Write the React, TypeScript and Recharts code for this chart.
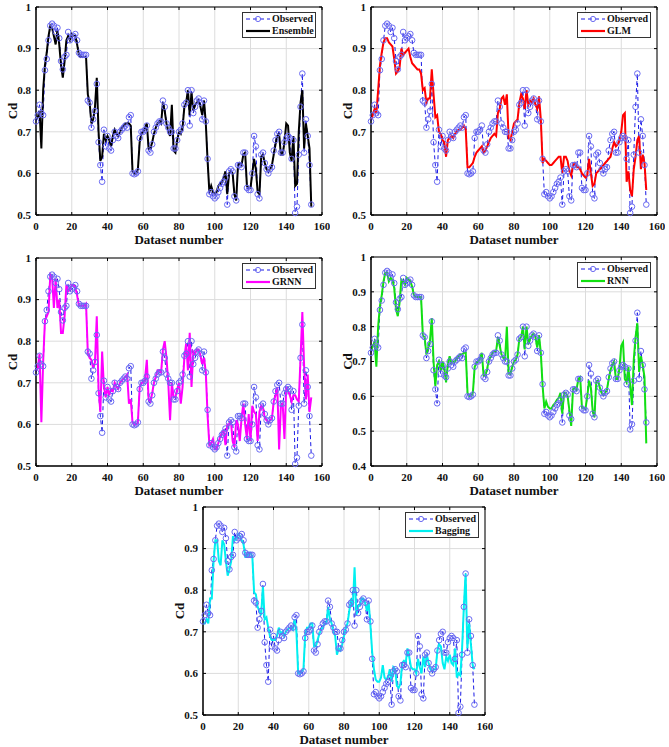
import React from "react";
import { LineChart, Line, XAxis, YAxis, CartesianGrid, ReferenceArea } from "recharts";

// Discharge coefficient per dataset number, measured and predicted by five models
const observed = [
  0.725, 0.74, 0.765, 0.745, 0.74, 0.848, 0.875, 0.92, 0.955, 0.96,
  0.955, 0.94, 0.95, 0.925, 0.87, 0.85, 0.88, 0.885, 0.94, 0.92,
  0.925, 0.93, 0.935, 0.92, 0.89, 0.885, 0.885, 0.885, 0.885, 0.775,
  0.77, 0.71, 0.73, 0.75, 0.815, 0.675, 0.62, 0.58, 0.705, 0.665,
  0.69, 0.66, 0.655, 0.68, 0.7, 0.69, 0.685, 0.7, 0.705, 0.71,
  0.715, 0.71, 0.735, 0.74, 0.6, 0.598, 0.6, 0.605, 0.685, 0.7,
  0.7, 0.705, 0.715, 0.655, 0.65, 0.67, 0.7, 0.71, 0.72, 0.725,
  0.725, 0.775, 0.76, 0.72, 0.71, 0.7, 0.7, 0.66, 0.66, 0.68,
  0.7, 0.705, 0.72, 0.765, 0.77, 0.8, 0.715, 0.8, 0.745, 0.76,
  0.775, 0.78, 0.77, 0.73, 0.775, 0.725, 0.635, 0.55, 0.555, 0.545,
  0.54, 0.545, 0.555, 0.565, 0.575, 0.58, 0.59, 0.525, 0.605, 0.61,
  0.605, 0.545, 0.535, 0.62, 0.62, 0.615, 0.65, 0.65, 0.565, 0.56,
  0.56, 0.6, 0.69, 0.665, 0.55, 0.54, 0.645, 0.65, 0.625, 0.61,
  0.6, 0.61, 0.615, 0.655, 0.68, 0.695, 0.7, 0.65, 0.65, 0.675,
  0.685, 0.69, 0.685, 0.635, 0.68, 0.505, 0.52, 0.645, 0.76, 0.84,
  0.65, 0.73, 0.69, 0.62, 0.525,
];

const ensemble = [
  0.73, 0.735, 0.75, 0.66, 0.8, 0.86, 0.89, 0.93, 0.955, 0.95,
  0.93, 0.91, 0.945, 0.91, 0.86, 0.83, 0.87, 0.92, 0.93, 0.92,
  0.935, 0.93, 0.93, 0.91, 0.885, 0.88, 0.88, 0.88, 0.88, 0.79,
  0.77, 0.72, 0.73, 0.76, 0.83, 0.7, 0.63, 0.64, 0.695, 0.68,
  0.69, 0.68, 0.665, 0.69, 0.705, 0.695, 0.69, 0.7, 0.71, 0.715,
  0.72, 0.72, 0.72, 0.715, 0.605, 0.6, 0.6, 0.61, 0.675, 0.695,
  0.7, 0.71, 0.72, 0.66, 0.66, 0.675, 0.695, 0.71, 0.72, 0.725,
  0.72, 0.77, 0.75, 0.72, 0.7, 0.69, 0.765, 0.655, 0.65, 0.68,
  0.7, 0.695, 0.71, 0.76, 0.77, 0.8, 0.74, 0.795, 0.75, 0.765,
  0.77, 0.775, 0.76, 0.74, 0.775, 0.72, 0.63, 0.555, 0.57, 0.555,
  0.55, 0.555, 0.57, 0.575, 0.58, 0.59, 0.605, 0.55, 0.6, 0.605,
  0.6, 0.55, 0.535, 0.62, 0.625, 0.62, 0.645, 0.65, 0.57, 0.565,
  0.565, 0.6, 0.635, 0.61, 0.555, 0.55, 0.64, 0.645, 0.625, 0.61,
  0.605, 0.61, 0.62, 0.645, 0.67, 0.69, 0.695, 0.645, 0.645, 0.675,
  0.72, 0.715, 0.65, 0.63, 0.69, 0.57, 0.575, 0.7, 0.77, 0.8,
  0.66, 0.72, 0.69, 0.66, 0.52,
];

const glm = [
  0.73, 0.74, 0.755, 0.745, 0.8, 0.86, 0.89, 0.915, 0.925, 0.925,
  0.915, 0.91, 0.905, 0.875, 0.84, 0.845, 0.855, 0.9, 0.885, 0.89,
  0.895, 0.9, 0.88, 0.865, 0.86, 0.855, 0.85, 0.85, 0.84, 0.8,
  0.805, 0.77, 0.78, 0.78, 0.85, 0.79, 0.735, 0.74, 0.7, 0.695,
  0.68, 0.675, 0.64, 0.68, 0.685, 0.69, 0.685, 0.695, 0.7, 0.705,
  0.705, 0.71, 0.715, 0.705, 0.615, 0.615, 0.62, 0.625, 0.64, 0.65,
  0.655, 0.66, 0.665, 0.65, 0.655, 0.665, 0.675, 0.685, 0.69, 0.695,
  0.69, 0.745, 0.755, 0.78, 0.785, 0.765, 0.79, 0.685, 0.68, 0.7,
  0.72, 0.725, 0.73, 0.77, 0.79, 0.78, 0.755, 0.8, 0.765, 0.775,
  0.77, 0.78, 0.765, 0.755, 0.785, 0.73, 0.625, 0.635, 0.63, 0.625,
  0.62, 0.62, 0.625, 0.63, 0.635, 0.64, 0.64, 0.6, 0.64, 0.64,
  0.63, 0.605, 0.595, 0.62, 0.625, 0.615, 0.615, 0.61, 0.6, 0.595,
  0.59, 0.595, 0.635, 0.6, 0.57, 0.575, 0.6, 0.605, 0.61, 0.615,
  0.62, 0.625, 0.63, 0.635, 0.64, 0.66, 0.675, 0.665, 0.67, 0.68,
  0.7, 0.74, 0.745, 0.58, 0.605, 0.56, 0.545, 0.61, 0.64, 0.68,
  0.69, 0.61, 0.645, 0.625, 0.56,
];

const grnn = [
  0.73, 0.735, 0.77, 0.605, 0.75, 0.85, 0.86, 0.87, 0.96, 0.955,
  0.88, 0.95, 0.88, 0.9, 0.82, 0.82, 0.86, 0.935, 0.92, 0.925,
  0.935, 0.935, 0.93, 0.91, 0.885, 0.885, 0.885, 0.885, 0.89, 0.77,
  0.76, 0.755, 0.735, 0.75, 0.86, 0.685, 0.63, 0.775, 0.69, 0.665,
  0.69, 0.67, 0.685, 0.68, 0.7, 0.69, 0.685, 0.7, 0.705, 0.71,
  0.715, 0.72, 0.65, 0.66, 0.605, 0.6, 0.6, 0.605, 0.69, 0.7,
  0.7, 0.71, 0.755, 0.66, 0.655, 0.675, 0.7, 0.715, 0.73, 0.73,
  0.725, 0.78, 0.8, 0.76, 0.7, 0.61, 0.7, 0.665, 0.665, 0.685,
  0.7, 0.65, 0.69, 0.76, 0.795, 0.73, 0.82, 0.69, 0.775, 0.77,
  0.78, 0.78, 0.765, 0.745, 0.76, 0.725, 0.62, 0.55, 0.555, 0.565,
  0.54, 0.54, 0.555, 0.57, 0.58, 0.585, 0.55, 0.6, 0.6, 0.61,
  0.56, 0.545, 0.61, 0.6, 0.56, 0.615, 0.65, 0.6, 0.565, 0.625,
  0.56, 0.645, 0.63, 0.625, 0.56, 0.63, 0.645, 0.64, 0.615, 0.61,
  0.605, 0.61, 0.615, 0.655, 0.67, 0.69, 0.54, 0.645, 0.65, 0.565,
  0.69, 0.68, 0.67, 0.655, 0.67, 0.67, 0.66, 0.655, 0.76, 0.87,
  0.74, 0.66, 0.72, 0.63, 0.665,
];

const rnn = [
  0.73, 0.745, 0.755, 0.685, 0.8, 0.86, 0.89, 0.93, 0.955, 0.955,
  0.93, 0.94, 0.935, 0.91, 0.85, 0.83, 0.87, 0.935, 0.93, 0.92,
  0.94, 0.935, 0.93, 0.915, 0.89, 0.885, 0.885, 0.885, 0.885, 0.775,
  0.77, 0.72, 0.74, 0.76, 0.825, 0.7, 0.63, 0.69, 0.7, 0.675,
  0.7, 0.68, 0.64, 0.695, 0.715, 0.695, 0.7, 0.7, 0.71, 0.715,
  0.72, 0.72, 0.725, 0.725, 0.61, 0.6, 0.6, 0.61, 0.685, 0.695,
  0.7, 0.71, 0.725, 0.66, 0.66, 0.68, 0.705, 0.715, 0.725, 0.73,
  0.73, 0.77, 0.745, 0.72, 0.71, 0.705, 0.8, 0.665, 0.665, 0.685,
  0.7, 0.705, 0.72, 0.765, 0.77, 0.8, 0.735, 0.8, 0.75, 0.765,
  0.775, 0.78, 0.77, 0.74, 0.775, 0.725, 0.63, 0.565, 0.585, 0.57,
  0.565, 0.565, 0.575, 0.58, 0.59, 0.595, 0.61, 0.55, 0.61, 0.61,
  0.6, 0.56, 0.515, 0.62, 0.625, 0.62, 0.65, 0.655, 0.57, 0.565,
  0.565, 0.6, 0.645, 0.625, 0.56, 0.54, 0.64, 0.645, 0.625, 0.61,
  0.605, 0.61, 0.62, 0.65, 0.675, 0.69, 0.7, 0.65, 0.65, 0.68,
  0.745, 0.755, 0.65, 0.64, 0.685, 0.63, 0.575, 0.705, 0.77, 0.81,
  0.67, 0.715, 0.69, 0.655, 0.465,
];

const bagging = [
  0.72, 0.72, 0.73, 0.72, 0.78, 0.78, 0.87, 0.92, 0.92, 0.87,
  0.86, 0.92, 0.91, 0.87, 0.835, 0.85, 0.87, 0.93, 0.92, 0.925,
  0.935, 0.93, 0.92, 0.91, 0.88, 0.88, 0.89, 0.89, 0.88, 0.795,
  0.79, 0.76, 0.75, 0.74, 0.81, 0.73, 0.735, 0.71, 0.69, 0.68,
  0.68, 0.68, 0.69, 0.71, 0.695, 0.7, 0.69, 0.7, 0.705, 0.71,
  0.71, 0.705, 0.73, 0.7, 0.6, 0.6, 0.605, 0.61, 0.695, 0.71,
  0.71, 0.72, 0.72, 0.665, 0.665, 0.68, 0.695, 0.705, 0.71, 0.72,
  0.72, 0.76, 0.73, 0.72, 0.7, 0.69, 0.645, 0.66, 0.655, 0.67,
  0.69, 0.71, 0.72, 0.75, 0.78, 0.76, 0.855, 0.74, 0.76, 0.765,
  0.78, 0.78, 0.77, 0.75, 0.77, 0.715, 0.65, 0.61, 0.585, 0.58,
  0.58, 0.59, 0.62, 0.59, 0.585, 0.59, 0.61, 0.58, 0.615, 0.61,
  0.57, 0.565, 0.575, 0.625, 0.63, 0.625, 0.66, 0.64, 0.615, 0.61,
  0.61, 0.6, 0.635, 0.615, 0.6, 0.64, 0.615, 0.645, 0.625, 0.61,
  0.605, 0.61, 0.61, 0.655, 0.67, 0.665, 0.625, 0.61, 0.64, 0.63,
  0.645, 0.625, 0.62, 0.66, 0.59, 0.6, 0.595, 0.66, 0.76, 0.84,
  0.66, 0.72, 0.67, 0.62, 0.61,
];

const xTicks = [0, 20, 40, 60, 80, 100, 120, 140, 160];
const yTicksA = [0.5, 0.6, 0.7, 0.8, 0.9, 1];
const yTicksB = [0.4, 0.5, 0.6, 0.7, 0.8, 0.9, 1];

const rows = observed.map((v, i) => ({
  n: i,
  obs: v,
  ens: ensemble[i],
  glm: glm[i],
  grnn: grnn[i],
  rnn: rnn[i],
  bag: bagging[i],
}));

const FONT = "'Liberation Serif', 'Times New Roman', serif";
const OBS_LINE = "#1a1ae6";
const OBS_DOT = "#6a6af2";

interface Panel {
  key: string;
  name: string;
  color: string;
  yTicks: number[];
  px: number; // plot area left
  py: number; // plot area top
  pw: number;
  ph: number;
  axisH: number;
}

const panels: Panel[] = [
  { key: "ens", name: "Ensemble", color: "#000000", yTicks: yTicksA, px: 36, py: 7, pw: 286, ph: 208, axisH: 35 },
  { key: "glm", name: "GLM", color: "#ff0000", yTicks: yTicksA, px: 371, py: 7, pw: 286, ph: 208, axisH: 35 },
  { key: "grnn", name: "GRNN", color: "#ff00ff", yTicks: yTicksA, px: 36, py: 258, pw: 286, ph: 208, axisH: 35 },
  { key: "rnn", name: "RNN", color: "#11e011", yTicks: yTicksB, px: 371, py: 257, pw: 286, ph: 209, axisH: 35 },
  { key: "bag", name: "Bagging", color: "#00f0f0", yTicks: yTicksA, px: 203, py: 507, pw: 282, ph: 208, axisH: 32 },
];

const tickText = { fontFamily: FONT, fontWeight: 700, fontSize: 11, fill: "#111" };

function fmtY(v: number) {
  return v === 1 ? "1" : v.toFixed(1);
}

function LegendBox({ p }: { p: Panel }) {
  const row = { display: "flex", alignItems: "center", height: 12 };
  return (
    <div
      style={{
        position: "absolute",
        left: p.px + p.pw - 80,
        top: p.py + 5,
        width: 70,
        border: "1.5px solid #333",
        background: "#fff",
        padding: "0 0 0 2px",
        fontFamily: FONT,
        fontWeight: 700,
        fontSize: 10,
        lineHeight: "12px",
        color: "#111",
      }}
    >
      <div style={row}>
        <svg width={26} height={10} style={{ marginRight: 1 }}>
          <line x1={1} y1={5} x2={25} y2={5} stroke={OBS_LINE} strokeWidth={1} strokeDasharray="4 3" />
          <circle cx={13} cy={5} r={2.6} fill="none" stroke={OBS_DOT} strokeWidth={1} />
        </svg>
        Observed
      </div>
      <div style={row}>
        <svg width={26} height={10} style={{ marginRight: 1 }}>
          <line x1={1} y1={5} x2={25} y2={5} stroke={p.color} strokeWidth={2.2} />
        </svg>
        {p.name}
      </div>
    </div>
  );
}

function PanelChart({ p }: { p: Panel }) {
  const yMin = p.yTicks[0];
  const left = p.px - 36;
  const top = p.py - 7;
  const width = p.pw + 36 + 8;
  const height = p.ph + 7 + p.axisH;

  // ticks point inward on all four sides of the box
  const xTick = (props: any) => {
    const { x, y, payload } = props;
    return (
      <g>
        <line x1={x} y1={y} x2={x} y2={y - 3} stroke="#000" />
        <line x1={x} y1={y - p.ph} x2={x} y2={y - p.ph + 3} stroke="#000" />
        <text x={x} y={y + 7} dy="0.71em" textAnchor="middle" style={tickText}>
          {payload.value}
        </text>
      </g>
    );
  };

  const yTick = (props: any) => {
    const { x, y, payload } = props;
    return (
      <g>
        <line x1={x} y1={y} x2={x + 3} y2={y} stroke="#000" />
        <line x1={x + p.pw} y1={y} x2={x + p.pw - 3} y2={y} stroke="#000" />
        <text x={x - 5} y={y} dy="0.35em" textAnchor="end" style={tickText}>
          {fmtY(payload.value)}
        </text>
      </g>
    );
  };

  return (
    <>
      <div style={{ position: "absolute", left, top }}>
        <LineChart width={width} height={height} data={rows} margin={{ top: 7, right: 8, left: 0, bottom: 0 }}>
          <CartesianGrid stroke="#dcdcdc" strokeWidth={1} />
          <XAxis
            dataKey="n"
            type="number"
            domain={[0, 160]}
            ticks={xTicks}
            interval={0}
            height={p.axisH}
            tickSize={0}
            tickMargin={0}
            tickLine={false}
            axisLine={{ stroke: "#000" }}
            tick={xTick}
            label={{
              value: "Dataset number",
              position: "insideBottom",
              offset: p.axisH - 29,
              style: { fontFamily: FONT, fontWeight: 700, fontSize: 13, fill: "#111" },
            }}
          />
          <YAxis
            type="number"
            domain={[yMin, 1]}
            ticks={p.yTicks}
            interval={0}
            width={36}
            tickSize={0}
            tickMargin={0}
            tickLine={false}
            axisLine={{ stroke: "#000" }}
            tick={yTick}
            label={{
              value: "Cd",
              angle: -90,
              position: "insideLeft",
              offset: 12,
              style: { fontFamily: FONT, fontWeight: 700, fontSize: 13, fill: "#111", textAnchor: "middle" },
            }}
          />
          <ReferenceArea x1={0} x2={160} y1={yMin} y2={1} fill="none" stroke="#000" strokeWidth={1} />
          <Line
            dataKey="obs"
            type="linear"
            stroke={OBS_LINE}
            strokeWidth={1}
            strokeDasharray="4 3"
            dot={{ r: 2.8, fill: "none", stroke: OBS_DOT, strokeWidth: 1, strokeDasharray: "" }}
            isAnimationActive={false}
          />
          <Line
            dataKey={p.key}
            type="linear"
            stroke={p.color}
            strokeWidth={2}
            dot={false}
            isAnimationActive={false}
          />
        </LineChart>
      </div>
      <LegendBox p={p} />
    </>
  );
}

export default function App() {
  return (
    <div
      style={{
        position: "fixed",
        left: 0,
        top: 0,
        width: 669,
        height: 747,
        overflow: "hidden",
        background: "#fff",
      }}
    >
      {panels.map((p) => (
        <PanelChart key={p.key} p={p} />
      ))}
    </div>
  );
}
